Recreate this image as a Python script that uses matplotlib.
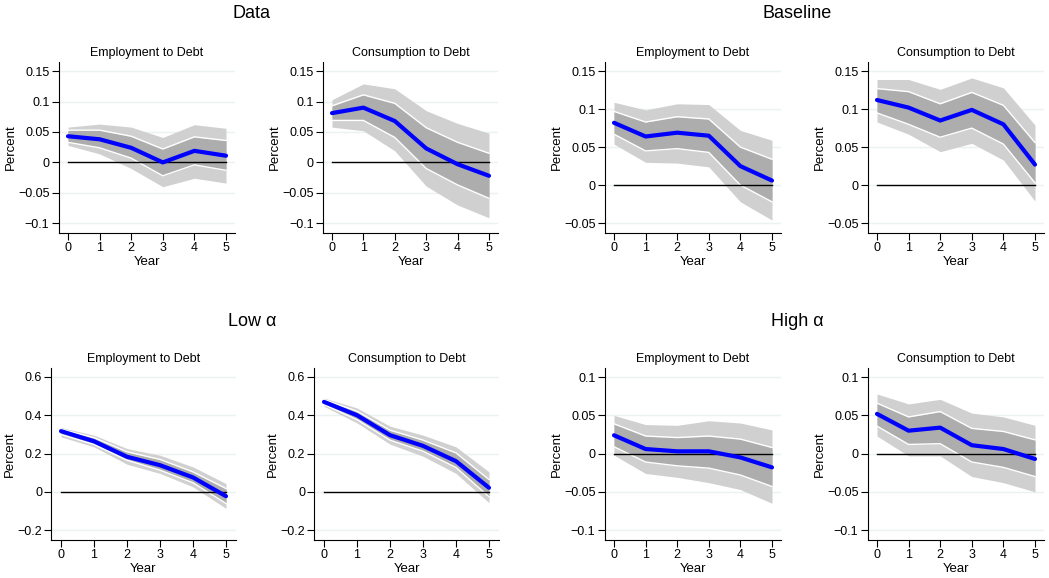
import matplotlib
matplotlib.use("Agg")
import matplotlib.pyplot as plt
from matplotlib.ticker import FuncFormatter

plt.rcParams['font.family'] = ['Liberation Sans', 'DejaVu Sans']

years = [0, 1, 2, 3, 4, 5]

# Data
data_emp = [0.043, 0.038, 0.024, 0.000, 0.019, 0.011]
data_emp_hi90 = [0.058, 0.063, 0.058, 0.041, 0.062, 0.056]
data_emp_lo90 = [0.028, 0.014, -0.010, -0.040, -0.026, -0.034]
data_emp_hi68 = [0.053, 0.053, 0.043, 0.022, 0.042, 0.036]
data_emp_lo68 = [0.033, 0.024, 0.007, -0.022, -0.004, -0.013]

data_con = [0.081, 0.090, 0.068, 0.023, -0.003, -0.022]
data_con_hi90 = [0.103, 0.129, 0.121, 0.085, 0.064, 0.048]
data_con_lo90 = [0.058, 0.052, 0.019, -0.039, -0.070, -0.091]
data_con_hi68 = [0.093, 0.111, 0.097, 0.057, 0.033, 0.015]
data_con_lo68 = [0.069, 0.069, 0.041, -0.010, -0.037, -0.059]

# Baseline
base_emp = [0.082, 0.064, 0.069, 0.065, 0.025, 0.006]
base_emp_hi90 = [0.109, 0.099, 0.107, 0.106, 0.072, 0.059]
base_emp_lo90 = [0.054, 0.030, 0.029, 0.024, -0.022, -0.046]
base_emp_hi68 = [0.097, 0.083, 0.090, 0.087, 0.050, 0.034]
base_emp_lo68 = [0.067, 0.045, 0.048, 0.043, 0.000, -0.022]

base_con = [0.112, 0.102, 0.085, 0.099, 0.080, 0.027]
base_con_hi90 = [0.139, 0.139, 0.126, 0.141, 0.128, 0.079]
base_con_lo90 = [0.083, 0.067, 0.044, 0.055, 0.033, -0.021]
base_con_hi68 = [0.127, 0.123, 0.107, 0.122, 0.105, 0.056]
base_con_lo68 = [0.095, 0.080, 0.063, 0.075, 0.054, 0.003]

# Low alpha
low_emp = [0.317, 0.264, 0.183, 0.139, 0.075, -0.023]
low_emp_hi90 = [0.336, 0.296, 0.226, 0.191, 0.130, 0.043]
low_emp_lo90 = [0.287, 0.235, 0.144, 0.096, 0.026, -0.087]
low_emp_hi68 = [0.327, 0.283, 0.209, 0.169, 0.104, 0.017]
low_emp_lo68 = [0.299, 0.247, 0.165, 0.113, 0.047, -0.061]

low_con = [0.470, 0.400, 0.296, 0.240, 0.160, 0.021]
low_con_hi90 = [0.490, 0.438, 0.343, 0.296, 0.235, 0.104]
low_con_lo90 = [0.447, 0.360, 0.249, 0.186, 0.096, -0.057]
low_con_hi68 = [0.482, 0.421, 0.322, 0.270, 0.203, 0.064]
low_con_lo68 = [0.456, 0.377, 0.270, 0.212, 0.127, -0.026]

# High alpha
high_emp = [0.024, 0.006, 0.003, 0.003, -0.005, -0.018]
high_emp_hi90 = [0.050, 0.038, 0.037, 0.043, 0.040, 0.031]
high_emp_lo90 = [-0.002, -0.026, -0.031, -0.038, -0.047, -0.065]
high_emp_hi68 = [0.039, 0.023, 0.021, 0.023, 0.019, 0.008]
high_emp_lo68 = [0.009, -0.011, -0.016, -0.019, -0.028, -0.043]

high_con = [0.052, 0.030, 0.034, 0.011, 0.006, -0.007]
high_con_hi90 = [0.078, 0.065, 0.071, 0.053, 0.048, 0.037]
high_con_lo90 = [0.023, -0.003, -0.003, -0.030, -0.038, -0.050]
high_con_hi68 = [0.066, 0.048, 0.055, 0.033, 0.029, 0.018]
high_con_lo68 = [0.036, 0.012, 0.013, -0.011, -0.018, -0.030]

ticks_a = [-0.1, -0.05, 0, 0.05, 0.1, 0.15]
ticks_b = [-0.05, 0, 0.05, 0.1, 0.15]
ticks_c = [-0.2, 0, 0.2, 0.4, 0.6]
ticks_d = [-0.1, -0.05, 0, 0.05, 0.1]

W, H = 1049, 578
fig = plt.figure(figsize=(W / 100, H / 100), dpi=100)


def fmt(v, pos):
    s = f"{v:g}"
    if abs(v) < 1e-12:
        s = "0"
    return s.replace("-", "\u2212")


def panel(t0, t5, top, bottom, ylim, yticks, title, irf, hi90, lo90, hi68, lo68):
    ppu = (t5 - t0) / 5
    left = t0 - 0.3 * ppu
    right = t5 + 0.3 * ppu
    ax = fig.add_axes([left / W, 1 - bottom / H, (right - left) / W, (bottom - top) / H])
    for y in yticks:
        ax.axhline(y, color="#eaf2f3", lw=1, zorder=0)
    ax.fill_between(years, lo90, hi90, color="#d0d0d0", lw=0, zorder=1)
    ax.fill_between(years, lo68, hi68, color="#adadad", lw=0, zorder=2)
    ax.plot(years, hi68, color="white", lw=1, zorder=3)
    ax.plot(years, lo68, color="white", lw=1, zorder=3)
    ax.plot([0, 5], [0, 0], color="black", lw=1, zorder=4)
    ax.plot(years, irf, color="#0000ff", lw=3, zorder=5, solid_capstyle="round")
    ax.set_xlim(-0.3, 5.3)
    ax.set_ylim(*ylim)
    ax.set_xticks(years)
    ax.set_yticks(yticks)
    ax.yaxis.set_major_formatter(FuncFormatter(fmt))
    ax.tick_params(labelsize=9, length=5, width=0.8, pad=1.5)
    for s in ["top", "right"]:
        ax.spines[s].set_visible(False)
    ax.set_xlabel("Year", fontsize=9.5, labelpad=1.5)
    ax.set_ylabel("Percent", fontsize=9.5, labelpad=1)
    ax.set_title(title, fontsize=9, pad=4)
    return ax


ylim_a = (-0.116, 0.165)
ylim_b = (-0.063, 0.162)
ylim_c = (-0.252, 0.647)
ylim_d = (-0.113, 0.112)

panel(68, 226, 62, 233, ylim_a, ticks_a, "Employment to Debt",
      data_emp, data_emp_hi90, data_emp_lo90, data_emp_hi68, data_emp_lo68)
panel(332, 489, 62, 233, ylim_a, ticks_a, "Consumption to Debt",
      data_con, data_con_hi90, data_con_lo90, data_con_hi68, data_con_lo68)
panel(614, 772, 62, 233, ylim_b, ticks_b, "Employment to Debt",
      base_emp, base_emp_hi90, base_emp_lo90, base_emp_hi68, base_emp_lo68)
panel(877, 1035, 62, 233, ylim_b, ticks_b, "Consumption to Debt",
      base_con, base_con_hi90, base_con_lo90, base_con_hi68, base_con_lo68)
panel(61, 226, 368, 540, ylim_c, ticks_c, "Employment to Debt",
      low_emp, low_emp_hi90, low_emp_lo90, low_emp_hi68, low_emp_lo68)
panel(324, 489, 368, 540, ylim_c, ticks_c, "Consumption to Debt",
      low_con, low_con_hi90, low_con_lo90, low_con_hi68, low_con_lo68)
panel(614, 772, 368, 540, ylim_d, ticks_d, "Employment to Debt",
      high_emp, high_emp_hi90, high_emp_lo90, high_emp_hi68, high_emp_lo68)
panel(877, 1035, 368, 540, ylim_d, ticks_d, "Consumption to Debt",
      high_con, high_con_hi90, high_con_lo90, high_con_hi68, high_con_lo68)

fig.text(252 / W, 1 - 13 / H, "Data", ha="center", va="center", fontsize=13)
fig.text(797 / W, 1 - 13 / H, "Baseline", ha="center", va="center", fontsize=13)
fig.text(252 / W, 1 - 321 / H, "Low \u03b1", ha="center", va="center", fontsize=13)
fig.text(797 / W, 1 - 321 / H, "High \u03b1", ha="center", va="center", fontsize=13)

fig.savefig("out.png", dpi=100)
